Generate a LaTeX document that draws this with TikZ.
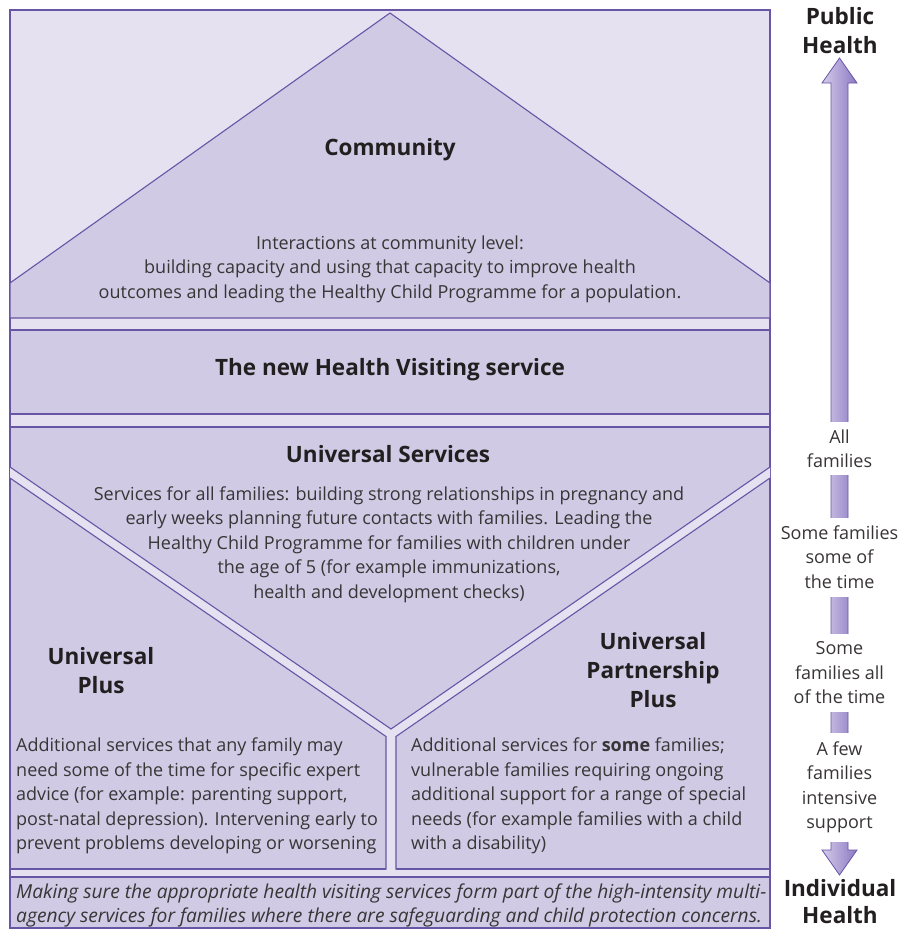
\documentclass[tikz,border=0pt]{standalone}
\usepackage{fontspec}
\setmainfont{Open Sans}
\definecolor{hvline}{RGB}{105,85,165}
\definecolor{hvlight}{RGB}{229,225,241}
\definecolor{hvdark}{RGB}{208,202,228}
\definecolor{hvtext}{RGB}{35,31,32}
\definecolor{hvshaft}{RGB}{140,120,196}
\begin{document}
\begin{tikzpicture}[x=1pt,y=-1pt,
        panel/.style={fill=hvdark,draw=hvline,line width=1.1pt},
        band/.style={fill=hvlight,draw=hvline,line width=1.1pt},
        edge/.style={draw=hvline,line width=1.1pt},
        title/.style={font=\fontsize{22.5}{29}\selectfont\bfseries,text=hvtext,align=center,inner sep=0pt},
        body/.style={font=\fontsize{18}{24.5}\selectfont,text=hvtext!90,align=center,inner sep=0pt},
        bodyleft/.style={body,align=left,anchor=west},
        level/.style={body,fill=white,inner xsep=2pt}]
    \useasboundingbox (0,0) rectangle (907,930);
    \draw[band] (10,10) rectangle (770,928);
    \draw[panel] (10,318) -- (10,283) -- (390,13) -- (770,283) -- (770,318) -- cycle;
    \draw[panel] (10,330) rectangle (770,414);
    \fill[hvdark] (10,427) rectangle (770,869);
    \draw[edge] (386,869) -- (10,869) -- (10,427) -- (770,427) -- (770,869) -- (396,869);
    \fill[hvlight] (10,467) -- (391,729) -- (770,467) -- (770,478) -- (396,736.5) -- (396,869.5)
        -- (386,869.5) -- (386,736.5) -- (10,478) -- cycle;
    \draw[edge] (10,467) -- (391,729) -- (770,467);
    \draw[edge] (10,478) -- (386,736.5) -- (386,869.5);
    \draw[edge] (770,478) -- (396,736.5) -- (396,869.5);
    \draw[panel] (10,877) rectangle (770,928);
    \node[title] (community) at (390,150) {Community};
    \node[body] (communitytext) at (390,269) {Interactions at community level:\\
        building capacity and using that capacity to improve health\\
        outcomes and leading the Healthy Child Programme for a population.};
    \node[title] (hvservice) at (390,370) {The new Health Visiting service};
    \node[title] (universal) at (388,454) {Universal Services};
    \node[body] (universaltext) at (389,544.5) {Services for all families: building strong relationships in pregnancy and\\
        early weeks planning future contacts with families. Leading the\\
        Healthy Child Programme for families with children under\\
        the age of 5 (for example immunizations,\\
        health and development checks)};
    \node[title] (uplus) at (101,670.5) {Universal\\Plus};
    \node[title] (upplus) at (653,670) {Universal\\Partnership\\Plus};
    \node[bodyleft] (uplustext) at (16,796) {Additional services that any family may\\
        need some of the time for specific expert\\
        advice (for example: parenting support,\\
        post-natal depression). Intervening early to\\
        prevent problems developing or worsening};
    \node[bodyleft] (upplustext) at (411,796) {Additional services for \textbf{some} families;\\
        vulnerable families requiring ongoing\\
        additional support for a range of special\\
        needs (for example families with a child\\
        with a disability)};
    \node[bodyleft,font=\fontsize{19.2}{24}\selectfont\itshape] (safeguard) at (16,905) {Making sure the appropriate health visiting services form part of the high-intensity multi-\\
        agency services for families where there are safeguarding and child protection concerns.};
    \coordinate (tip) at (839.5,58);
    \shade[left color=hvlight!80!hvshaft,right color=hvshaft,draw=hvline,line width=0.8pt]
        (tip) -- ++(17.5,25) -- ++(-9,0) -- ++(0,767) -- ++(9,0) -- ++(-17.5,25)
        -- ++(-17.5,-25) -- ++(9,0) -- ++(0,-767) -- ++(-9,0) -- cycle;
    \node[title] (public) at (840,31) {Public\\Health};
    \node[title,font=\fontsize{22.5}{27}\selectfont\bfseries] (individual) at (840,902) {Individual\\Health};
    \node[level,minimum height=53pt] (allfam) at (839.5,448.5) {All\\families};
    \node[level,minimum height=79pt] (somesome) at (839.5,557) {Some families\\some of\\the time};
    \node[level,minimum height=78pt] (someall) at (839.5,673) {Some\\families all\\of the time};
    \node[level,minimum height=109pt] (fewfam) at (839.5,787.5) {A few\\families\\intensive\\support};
\end{tikzpicture}
\end{document}
